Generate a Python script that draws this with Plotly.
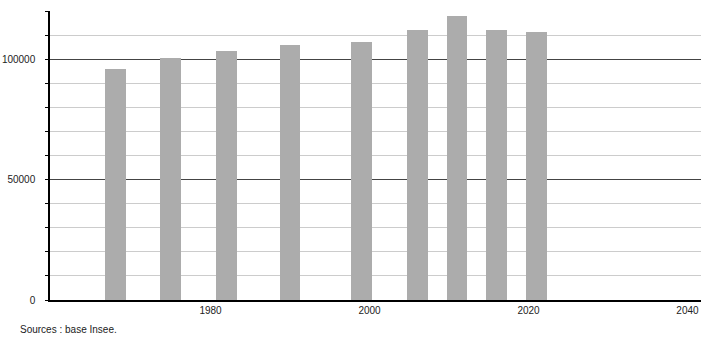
import plotly.graph_objects as go

years = [1968, 1975, 1982, 1990, 1999, 2006, 2011, 2016, 2021]
population = [96000, 100500, 103500, 106000, 107200, 112200, 118000, 112200, 111300]
x_tickvals = [1980, 2000, 2020, 2040]
y_tickvals = [0, 50000, 100000]
source_text = "Sources : base Insee."

FONT = "Liberation Sans, Arial, sans-serif"

fig = go.Figure()
fig.add_trace(go.Bar(
    x=years, y=population,
    width=2.6,
    marker=dict(color="#acacac", line=dict(width=0)),
    hoverinfo="x+y",
))

fig.update_layout(
    width=710, height=340,
    margin=dict(l=50, r=9, t=11, b=40, autoexpand=False),
    paper_bgcolor="white", plot_bgcolor="white",
    showlegend=False,
    font=dict(family=FONT, size=10, color="#222222"),
    bargap=0,
)

fig.update_xaxes(
    range=[1959.8, 2041.7],
    tickvals=x_tickvals,
    ticktext=[str(v) for v in x_tickvals],
    showgrid=False,
    zeroline=False,
    automargin=False,
    showline=True, linecolor="#000000", linewidth=1.5,
    ticks="",
    tickfont=dict(family=FONT, size=10, color="#222222"),
)

fig.update_yaxes(
    range=[0, 120000],
    tickvals=y_tickvals,
    tickformat="d",
    automargin=False,
    showgrid=True, gridcolor="#444444", gridwidth=1,
    zeroline=False,
    showline=True, linecolor="#000000", linewidth=1.5,
    ticks="outside", ticklen=3, tickcolor="#000000", tickwidth=1,
    tickfont=dict(family=FONT, size=10, color="#222222"),
    ticklabelstandoff=8,
    minor=dict(dtick=10000, tick0=0, showgrid=True, gridcolor="#cccccc", gridwidth=1,
               ticks="outside", ticklen=3, tickcolor="#000000", tickwidth=1),
)

fig.add_annotation(
    text=source_text,
    xref="paper", yref="paper",
    x=(18 - 50) / 651, y=(300 - 329) / 289,
    xanchor="left", yanchor="middle",
    showarrow=False,
    font=dict(family=FONT, size=10, color="#222222"),
)

fig.write_html("out.html")
